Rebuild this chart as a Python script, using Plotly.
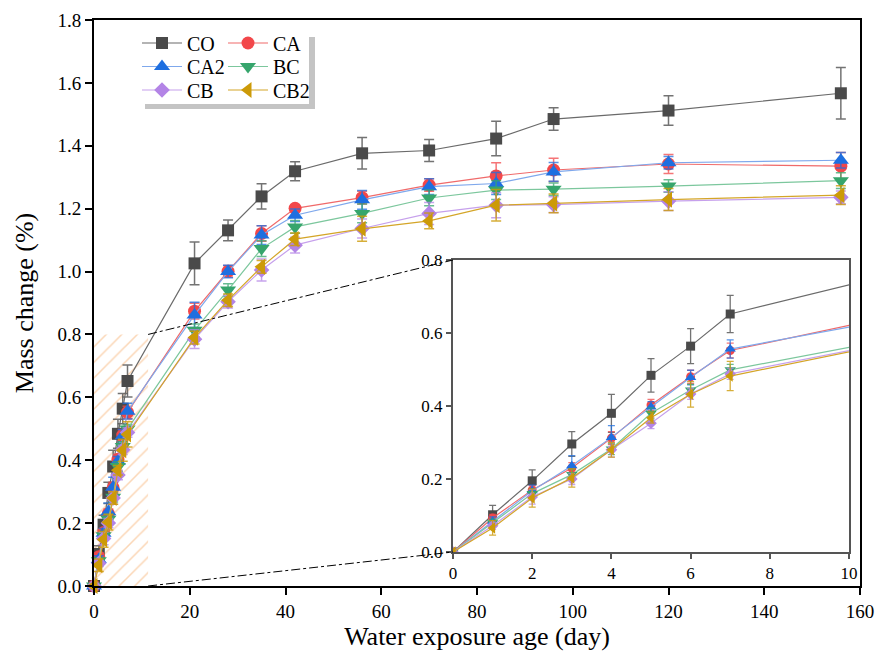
import plotly.graph_objects as go

# ---------------- data ----------------
days = [0, 1, 2, 3, 4, 5, 6, 7, 21, 28, 35, 42, 56, 70, 84, 96, 120, 156]

CO = [0, 0.102, 0.195, 0.296, 0.380, 0.484, 0.564, 0.652, 1.026, 1.131, 1.239, 1.319, 1.376, 1.385, 1.423, 1.485, 1.512, 1.567]
CO_err = [0, 0.026, 0.030, 0.034, 0.052, 0.046, 0.048, 0.051, 0.068, 0.033, 0.040, 0.030, 0.050, 0.035, 0.055, 0.036, 0.047, 0.082]

CA = [0, 0.093, 0.170, 0.230, 0.312, 0.403, 0.480, 0.552, 0.874, 1.001, 1.121, 1.201, 1.235, 1.275, 1.304, 1.323, 1.342, 1.335]
CA_err = [0, 0.010, 0.012, 0.015, 0.018, 0.015, 0.018, 0.020, 0.025, 0.018, 0.025, 0.010, 0.020, 0.020, 0.042, 0.037, 0.030, 0.044]

CA2 = [0, 0.084, 0.168, 0.236, 0.314, 0.397, 0.478, 0.556, 0.862, 1.000, 1.116, 1.179, 1.228, 1.270, 1.280, 1.317, 1.346, 1.354]
CA2_err = [0, 0.012, 0.015, 0.028, 0.032, 0.015, 0.020, 0.025, 0.040, 0.020, 0.030, 0.020, 0.030, 0.025, 0.035, 0.030, 0.020, 0.025]

BC = [0, 0.080, 0.160, 0.212, 0.282, 0.380, 0.444, 0.499, 0.813, 0.941, 1.073, 1.142, 1.185, 1.234, 1.259, 1.262, 1.272, 1.289]
BC_err = [0, 0.010, 0.012, 0.015, 0.015, 0.015, 0.015, 0.015, 0.020, 0.020, 0.025, 0.020, 0.030, 0.025, 0.030, 0.020, 0.020, 0.025]

CB = [0, 0.072, 0.151, 0.200, 0.280, 0.353, 0.433, 0.488, 0.785, 0.904, 1.005, 1.084, 1.137, 1.185, 1.211, 1.213, 1.224, 1.236]
CB_err = [0, 0.010, 0.020, 0.015, 0.020, 0.015, 0.015, 0.015, 0.030, 0.020, 0.035, 0.025, 0.030, 0.035, 0.040, 0.025, 0.030, 0.020]

CB2 = [0, 0.066, 0.148, 0.203, 0.280, 0.368, 0.432, 0.482, 0.790, 0.909, 1.015, 1.103, 1.136, 1.161, 1.211, 1.217, 1.229, 1.243]
CB2_err = [0, 0.020, 0.025, 0.025, 0.020, 0.015, 0.035, 0.040, 0.020, 0.020, 0.020, 0.020, 0.040, 0.025, 0.050, 0.030, 0.035, 0.030]

names = ["CO", "CA", "CA2", "BC", "CB", "CB2"]
values = [CO, CA, CA2, BC, CB, CB2]
errors = [CO_err, CA_err, CA2_err, BC_err, CB_err, CB2_err]

x_ticks_main = [0, 20, 40, 60, 80, 100, 120, 140, 160]
y_ticks_main = [0.0, 0.2, 0.4, 0.6, 0.8, 1.0, 1.2, 1.4, 1.6, 1.8]
x_ticks_inset = [0, 2, 4, 6, 8, 10]
y_ticks_inset = [0.0, 0.2, 0.4, 0.6, 0.8]

zoom_x = [0, 11.3]      # highlighted region (days)
zoom_y = [0, 0.8]       # highlighted region (mass change)

# ---------------- style ----------------
marker_colors = ["#4a4a4a", "#f2474a", "#1e6fe0", "#36a56c", "#b384e6", "#cc9a08"]
line_colors = ["#6a6a6a", "#f06a6a", "#7fa8ec", "#7cc79d", "#c6a0ec", "#d4a528"]
err_colors = ["rgba(90,90,90,0.85)", "rgba(242,71,74,0.75)", "rgba(30,111,224,0.75)",
              "rgba(54,165,108,0.75)", "rgba(179,132,230,0.75)", "rgba(204,154,8,0.8)"]
symbols = ["square", "circle", "triangle-up", "triangle-down", "diamond", "triangle-left"]
sizes_main = [12, 13, 14, 14, 12, 14]
sizes_inset = [9, 9, 10, 10, 9, 10]

FONT = "Liberation Serif"
W, H = 878, 653
ML, MR, MT, MB = 94, 18, 20, 67
PW, PH = W - ML - MR, H - MT - MB


def pxx(p):
    return (p - ML) / PW


def pxy(p):
    return (H - MB - p) / PH


inset_xdom = [pxx(453), pxx(849)]
inset_ydom = [pxy(552), pxy(260)]

# legend item placement (pixel positions of each entry: left edge, row centre)
legend_cols = [137, 223]
legend_rows = [43, 66.5, 90]

fig = go.Figure()

# hatched zoom region
fig.add_trace(go.Scatter(
    x=[zoom_x[0], zoom_x[1], zoom_x[1], zoom_x[0], zoom_x[0]],
    y=[zoom_y[0], zoom_y[0], zoom_y[1], zoom_y[1], zoom_y[0]],
    mode="lines", fill="toself", fillcolor="rgba(0,0,0,0)",
    fillpattern=dict(shape="/", fgcolor="#f7ad6c", bgcolor="rgba(255,255,255,0)", size=11, solidity=0.14),
    line=dict(width=0), hoverinfo="skip", showlegend=False,
    xaxis="x", yaxis="y"))

legend_layouts = {}
for i, nm in enumerate(names):
    lid = "legend" if i == 0 else "legend%d" % (i + 1)
    col, row = i % 2, i // 2
    legend_layouts[lid] = dict(
        x=pxx(legend_cols[col]), y=pxy(legend_rows[row]), xanchor="left", yanchor="middle",
        bgcolor="rgba(0,0,0,0)", font=dict(family=FONT, size=20, color="black"),
        itemwidth=40, borderwidth=0)
    fig.add_trace(go.Scatter(
        x=days, y=values[i], name=nm, mode="lines+markers",
        line=dict(color=line_colors[i], width=1.2),
        marker=dict(symbol=symbols[i], size=sizes_main[i], color=marker_colors[i], line=dict(width=0)),
        error_y=dict(type="data", array=errors[i], color=err_colors[i], thickness=1.5, width=5),
        legend=lid, xaxis="x", yaxis="y", cliponaxis=False))

for i, nm in enumerate(names):
    fig.add_trace(go.Scatter(
        x=days, y=values[i], name=nm, mode="lines+markers", showlegend=False,
        line=dict(color=line_colors[i], width=1.2),
        marker=dict(symbol=symbols[i], size=sizes_inset[i], color=marker_colors[i], line=dict(width=0)),
        error_y=dict(type="data", array=errors[i], color=err_colors[i], thickness=1.3, width=3.5),
        xaxis="x2", yaxis="y2"))

# connector (dash-dot) lines from zoom region to inset corners
ix0 = inset_xdom[0] * x_ticks_main[-1]
iy0 = inset_ydom[0] * y_ticks_main[-1]
iy1 = inset_ydom[1] * y_ticks_main[-1]
shapes = [
    dict(type="line", xref="x", yref="y", x0=zoom_x[1], y0=zoom_y[1], x1=ix0, y1=iy1,
         line=dict(color="black", width=1, dash="dashdot")),
    dict(type="line", xref="x", yref="y", x0=zoom_x[1], y0=zoom_y[0], x1=ix0, y1=iy0,
         line=dict(color="black", width=1, dash="dashdot")),
    # legend shadow + box
    dict(type="rect", xref="paper", yref="paper", x0=pxx(145), x1=pxx(315), y0=pxy(109), y1=pxy(37),
         fillcolor="#c4c4c4", line=dict(width=0), layer="above"),
    dict(type="rect", xref="paper", yref="paper", x0=pxx(136), x1=pxx(309), y0=pxy(104), y1=pxy(31),
         fillcolor="white", line=dict(width=0), layer="above"),
]

axis_font = dict(family=FONT, size=19, color="black")
inset_font = dict(family=FONT, size=17, color="black")

fig.update_layout(
    width=W, height=H,
    margin=dict(l=ML, r=MR, t=MT, b=MB, autoexpand=False),
    paper_bgcolor="white", plot_bgcolor="rgba(0,0,0,0)",
    font=dict(family=FONT, color="black"),
    xaxis=dict(range=[x_ticks_main[0], x_ticks_main[-1]], tickvals=x_ticks_main,
               ticks="outside", ticklen=7, tickwidth=1.5, tickcolor="black",
               showline=True, linecolor="black", linewidth=2, mirror=True,
               showgrid=False, zeroline=False, tickfont=axis_font,
               title=dict(text="Water exposure age (day)", font=dict(family=FONT, size=26), standoff=6)),
    yaxis=dict(range=[y_ticks_main[0], y_ticks_main[-1]], tickvals=y_ticks_main, tickformat=".1f",
               ticks="outside", ticklen=7, tickwidth=1.5, tickcolor="black",
               showline=True, linecolor="black", linewidth=2, mirror=True,
               showgrid=False, zeroline=False, tickfont=axis_font,
               title=dict(text="Mass change (%)", font=dict(family=FONT, size=26), standoff=16)),
    xaxis2=dict(domain=inset_xdom, anchor="y2", range=[x_ticks_inset[0], x_ticks_inset[-1]],
                tickvals=x_ticks_inset, ticks="outside", ticklen=5, tickwidth=1.5, tickcolor="#555",
                showline=True, linecolor="#555", linewidth=2, mirror=True,
                showgrid=False, zeroline=False, tickfont=inset_font),
    yaxis2=dict(domain=inset_ydom, anchor="x2", range=[y_ticks_inset[0], y_ticks_inset[-1]],
                tickvals=y_ticks_inset, tickformat=".1f", ticks="outside", ticklen=5, tickwidth=1.5,
                tickcolor="#555", showline=True, linecolor="#555", linewidth=2, mirror=True,
                showgrid=False, zeroline=False, tickfont=inset_font),
    shapes=shapes,
    showlegend=True,
    **legend_layouts,
)

fig.write_html("out.html", config={"displayModeBar": False},
               post_script="document.body.style.margin='0';document.body.style.overflow='hidden';")
